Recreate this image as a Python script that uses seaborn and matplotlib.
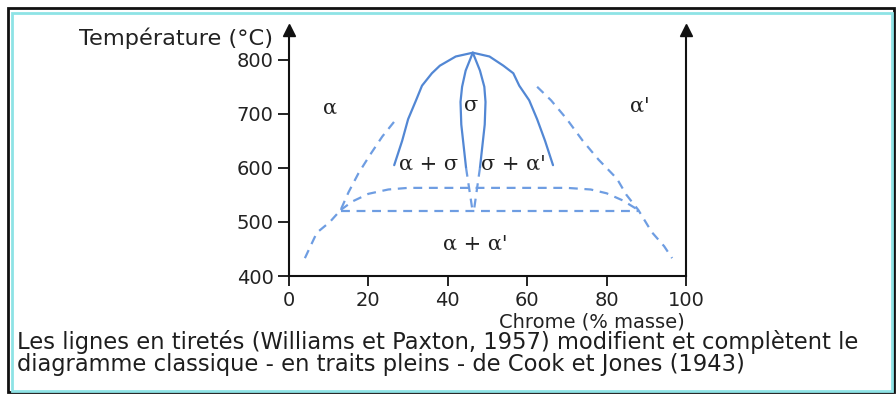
import matplotlib
matplotlib.use("Agg")
import matplotlib.pyplot as plt
from matplotlib.patches import Rectangle
import seaborn as sns

# ---------------- data ----------------
# Cook & Jones (1943) - solid lines
dome_x = [26.5, 28.5, 30, 32, 33.5, 36, 38, 42, 46.3, 50.5, 54, 56.5, 58, 60.5, 62.5, 64.5, 66.5]
dome_y = [605, 650, 690, 725, 752, 775, 789, 806, 813, 806, 789, 775, 752, 725, 690, 650, 605]

sigma_left_x = [46.3, 44.5, 43.6, 43.2, 43.4, 44.0, 44.6]
sigma_left_y = [813, 780, 750, 722, 680, 640, 600]
sigma_right_x = [46.3, 48.1, 49.2, 49.5, 49.3, 48.7, 48.1]
sigma_right_y = [813, 780, 750, 722, 680, 640, 600]

# Williams & Paxton (1957) - dashed lines
wp_left_x = [4, 7, 10.3, 13, 15, 17.5, 20.5, 23.5, 27]
wp_left_y = [433, 480, 500, 522, 555, 590, 625, 658, 690]
wp_right_x = [62.5, 66, 70, 74, 78, 82.6, 85, 88, 91.4, 94.5, 96.5]
wp_right_y = [750, 725, 690, 650, 615, 580, 550, 522, 481, 455, 433]
gap_x = [13, 16, 20, 25, 30, 50, 70, 76, 80, 84, 88]
gap_y = [522, 538, 552, 560, 563, 563, 563, 560, 553, 540, 522]
eut_x = [13, 88]
eut_y = [520, 520]
sig_dl_x = [44.6, 46.2]
sig_dl_y = [600, 522]
sig_dr_x = [48.1, 46.6]
sig_dr_y = [600, 522]

# phase labels
phase_text = ["α", "σ", "α'", "α + σ", "σ + α'", "α + α'"]
phase_x = [10.3, 46.0, 88.5, 35.1, 56.5, 46.9]
phase_y = [711, 715, 715, 607, 607, 459]

x_ticks = [0, 20, 40, 60, 80, 100]
y_ticks = [400, 500, 600, 700, 800]

y_label = "Température (°C)"
x_label = "Chrome (% masse)"
caption_1 = "Les lignes en tiretés (Williams et Paxton, 1957) modifient et complètent le"
caption_2 = "diagramme classique - en traits pleins - de Cook et Jones (1943)"

# ---------------- figure ----------------
sns.set_style("white")
plt.rcParams["font.family"] = ["DejaVu Sans"]

W, H = 896, 394
fig = plt.figure(figsize=(W / 100, H / 100), dpi=100)
fig.patch.set_facecolor("white")

ax = fig.add_axes([289 / W, 118 / H, 397 / W, 246 / H])
ax.set_xlim(0, 100)
ax.set_ylim(400, 855)
ax.set_facecolor("none")

solid_col = "#5287d4"
dash_col = "#6e9de2"

solid_curves = [(dome_x, dome_y), (sigma_left_x, sigma_left_y), (sigma_right_x, sigma_right_y)]
for cx, cy in solid_curves:
    sns.lineplot(x=cx, y=cy, sort=False, estimator=None, color=solid_col, lw=1.6, ax=ax)

dashed_curves = [(wp_left_x, wp_left_y), (wp_right_x, wp_right_y), (gap_x, gap_y),
                 (eut_x, eut_y), (sig_dl_x, sig_dl_y), (sig_dr_x, sig_dr_y)]
for cx, cy in dashed_curves:
    l = sns.lineplot(x=cx, y=cy, sort=False, estimator=None, color=dash_col, lw=1.6, ax=ax)
    l.lines[-1].set_dashes((4, 3))

for t, px, py in zip(phase_text, phase_x, phase_y):
    ax.text(px, py, t, ha="center", va="center", fontsize=15,
            family=["DejaVu Serif"], color="#222222")

# axes styling
ax.spines["top"].set_visible(False)
for s in ["left", "right", "bottom"]:
    ax.spines[s].set_visible(True)
    ax.spines[s].set_color("#111111")
    ax.spines[s].set_linewidth(1.5)

ax.set_xticks(x_ticks)
ax.set_yticks(y_ticks)
ax.set_xticklabels([str(v) for v in x_ticks])
ax.set_yticklabels([str(v) for v in y_ticks])
ax.tick_params(axis="x", direction="out", length=7, width=1.3, color="#111111",
               labelsize=14, pad=4, bottom=True, labelcolor="#222222")
ax.tick_params(axis="y", direction="out", length=8, width=1.3, color="#111111",
               labelsize=14, pad=3, left=True, right=False, labelcolor="#222222")
ax.set_xlabel("")
ax.set_ylabel("")

# arrow heads on the vertical axes
for xv in (0, 100):
    ax.plot([xv], [855], marker="^", ms=8, color="#111111", clip_on=False)

# texts
fig.text(273 / W, 1 - 38 / H, y_label, ha="right", va="center", fontsize=16.2, color="#222222")
fig.text(592 / W, 1 - 322 / H, x_label, ha="center", va="center", fontsize=14, color="#222222")
fig.text(17 / W, 1 - 342 / H, caption_1, ha="left", va="center", fontsize=16.3, color="#1e1e1e")
fig.text(17 / W, 1 - 365 / H, caption_2, ha="left", va="center", fontsize=16.3, color="#1e1e1e")

# frames
fig.patches.append(Rectangle((8 / W, 2 / H), 886 / W, 384 / H, transform=fig.transFigure,
                             fill=False, lw=2, ec="#111111"))
fig.patches.append(Rectangle((12 / W, 3.5 / H), 880 / W, 378 / H, transform=fig.transFigure,
                             fill=False, lw=2, ec="#8ee3e6"))

fig.savefig("out.png", dpi=100)
